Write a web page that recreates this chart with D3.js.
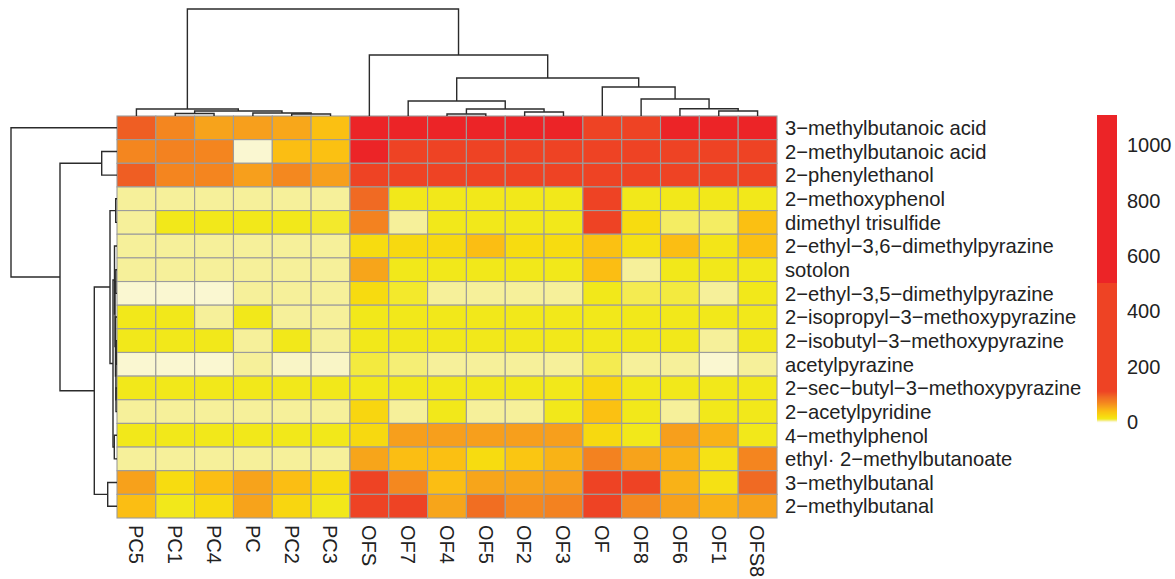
<!DOCTYPE html>
<html>
<head>
<meta charset="utf-8">
<script src="https://cdn.jsdelivr.net/npm/d3@7"></script>
<style>
  body { margin: 0; background: #fff; }
  text { font-family: "Liberation Sans", Arial, sans-serif; fill: #222; }
</style>
</head>
<body>
<div id="chart"></div>
<script>
// columns (samples) in dendrogram order
var samples = ["PC5", "PC1", "PC4", "PC", "PC2", "PC3", "OFS", "OF7", "OF4", "OF5", "OF2", "OF3", "OF", "OF8", "OF6", "OF1", "OFS8"];

// rows (compounds) in dendrogram order
var compounds = [
    "3\u2212methylbutanoic acid",
    "2\u2212methylbutanoic acid",
    "2\u2212phenylethanol",
    "2\u2212methoxyphenol",
    "dimethyl trisulfide",
    "2\u2212ethyl\u22123,6\u2212dimethylpyrazine",
    "sotolon",
    "2\u2212ethyl\u22123,5\u2212dimethylpyrazine",
    "2\u2212isopropyl\u22123\u2212methoxypyrazine",
    "2\u2212isobutyl\u22123\u2212methoxypyrazine",
    "acetylpyrazine",
    "2\u2212sec\u2212butyl\u22123\u2212methoxypyrazine",
    "2\u2212acetylpyridine",
    "4\u2212methylphenol",
    "ethyl\u00b7 2\u2212methylbutanoate",
    "3\u2212methylbutanal",
    "2\u2212methylbutanal"
];

// one row of values per compound, one value per sample (same order as samples)
var values = [
    [95, 69, 53, 55, 51, 37, 900, 860, 820, 840, 800, 780, 450, 430, 720, 740, 760],
    [69, 72, 70, 0.5, 38, 36, 650, 420, 400, 410, 390, 400, 380, 400, 390, 410, 420],
    [95, 70, 70, 55, 68, 55, 480, 400, 380, 390, 370, 380, 420, 390, 380, 370, 400],
    [3, 3, 3, 3, 3, 3, 88, 10, 10, 10, 10, 10, 200, 10, 10, 10, 10],
    [3, 10, 10, 10, 10, 9, 72, 3, 10, 10, 10, 10, 115, 18, 6, 6, 37],
    [3, 3, 3, 3, 3, 3, 18, 20, 20, 38, 18, 18, 36, 15, 38, 12, 37],
    [3, 3, 3, 3, 3, 3, 52, 10, 10, 10, 10, 10, 38, 3, 10, 10, 10],
    [0.5, 0.5, 0.5, 3, 3, 3, 19, 9, 3, 3, 3, 3, 10, 7, 8, 3, 10],
    [10, 10, 3, 10, 3, 3, 10, 10, 10, 10, 10, 10, 10, 10, 10, 10, 10],
    [10, 10, 10, 3, 10, 3, 10, 10, 10, 10, 10, 10, 10, 10, 10, 3, 10],
    [0.5, 0.5, 0.5, 3, 1, 1, 8, 5, 3, 3, 3, 3, 7, 3, 3, 0.5, 3],
    [10, 10, 10, 10, 10, 10, 10, 10, 10, 10, 10, 10, 22, 10, 10, 10, 10],
    [3, 3, 3, 3, 3, 3, 22, 3, 10, 3, 3, 10, 36, 10, 3, 10, 10],
    [10, 10, 10, 10, 10, 10, 20, 55, 55, 55, 55, 55, 20, 10, 55, 45, 10],
    [3, 3, 3, 3, 3, 3, 52, 38, 37, 18, 33, 44, 72, 53, 45, 14, 70],
    [54, 18, 38, 53, 38, 18, 200, 68, 38, 52, 52, 55, 220, 200, 45, 15, 88],
    [38, 10, 19, 53, 22, 10, 180, 200, 52, 85, 68, 72, 200, 68, 54, 45, 54]
];

var legendTicks = [0, 200, 400, 600, 800, 1000];
var legendMax = 1108;

// colour breaks
var colorStops = [0, 3, 10, 18, 37, 53, 69, 88, 110, 500, 501, 1200];
var colorRange = ["#FBF8DC", "#F6F09A", "#F2E81A", "#F7DC10", "#FBC012", "#F7A31B", "#F4861F", "#F06A23", "#EE4324", "#EE4324", "#EC2427", "#EC2427"];

// dendrograms: merge height + two children
function n(h, a, b) { return {h: h, children: [a, b]}; }
function leaf(name) { return {name: name, h: 0}; }

var colTree = n(107,
    n(7, leaf("PC5"), n(5, n(2.5, leaf("PC1"), leaf("PC4")), n(3, leaf("PC"), n(2, leaf("PC2"), leaf("PC3"))))),
    n(61, leaf("OFS"),
        n(38,
            n(15, leaf("OF7"), n(7, n(2, leaf("OF4"), leaf("OF5")), n(4, leaf("OF2"), leaf("OF3")))),
            n(29, leaf("OF"), n(17, leaf("OF8"), n(7.3, leaf("OF6"), n(5, leaf("OF1"), leaf("OFS8"))))))));

var r = compounds.map(leaf);
var rowTree = n(106, r[0],
    n(57, n(15.3, r[1], r[2]),
        n(22.7,
            n(7, n(1.3, r[3], r[4]),
                n(4,
                    n(2.5, r[5], n(2, n(1.2, r[6], r[7]), n(1.5, r[8], n(1.1, n(0.8, r[9], r[10]), n(1, r[11], r[12]))))),
                    n(2.7, r[13], r[14]))),
            n(9.3, r[15], r[16]))));

var width = 1175, height = 579;
var svg = d3.select("#chart").append("svg")
    .attr("width", width)
    .attr("height", height);

var x = d3.scaleBand().domain(samples).range([117, 777]);
var y = d3.scaleBand().domain(compounds).range([116, 518]);
var color = d3.scaleLinear().domain(colorStops).range(colorRange).clamp(true);

// cells
var cells = [];
values.forEach(function (row, i) {
    row.forEach(function (v, j) {
        cells.push({row: compounds[i], col: samples[j], v: v});
    });
});
svg.append("g").selectAll("rect")
    .data(cells)
    .enter().append("rect")
    .attr("x", function (d) { return x(d.col); })
    .attr("y", function (d) { return y(d.row); })
    .attr("width", x.bandwidth())
    .attr("height", y.bandwidth())
    .attr("fill", function (d) { return color(d.v); })
    .attr("stroke", "#9c9c9c")
    .attr("stroke-width", 1.1);

// row labels
svg.append("g").selectAll("text")
    .data(compounds)
    .enter().append("text")
    .attr("x", 785)
    .attr("y", function (d) { return y(d) + y.bandwidth() / 2; })
    .attr("dy", "0.36em")
    .attr("font-size", 20.2)
    .text(function (d) { return d; });

// column labels
svg.append("g").selectAll("text")
    .data(samples)
    .enter().append("text")
    .attr("transform", function (d) { return "translate(" + (x(d) + x.bandwidth() / 2) + ",525)rotate(90)"; })
    .attr("dy", "0.36em")
    .attr("font-size", 20)
    .text(function (d) { return d; });

// dendrograms
function drawTree(tree, posScale, hScale, horizontal) {
    var root = d3.hierarchy(tree);
    root.eachAfter(function (nd) {
        nd.pos = nd.children ? d3.mean(nd.children, function (c) { return c.pos; })
                             : posScale(nd.data.name) + posScale.bandwidth() / 2;
    });
    var g = svg.append("g")
        .attr("fill", "none")
        .attr("stroke", "#2b2b2b")
        .attr("stroke-width", 1.4);
    g.selectAll("path")
        .data(root.descendants().filter(function (nd) { return nd.children; }))
        .enter().append("path")
        .attr("d", function (nd) {
            var a = nd.children[0], b = nd.children[1];
            var h = hScale(nd.data.h);
            if (horizontal) {
                return "M" + hScale(a.data.h) + "," + a.pos + "H" + h + "V" + b.pos + "H" + hScale(b.data.h);
            }
            return "M" + a.pos + "," + hScale(a.data.h) + "V" + h + "H" + b.pos + "V" + hScale(b.data.h);
        });
}

drawTree(colTree, x, d3.scaleLinear().domain([0, 107]).range([116, 9]), false);
drawTree(rowTree, y, d3.scaleLinear().domain([0, 106]).range([117, 11]), true);

// legend
var yLeg = d3.scaleLinear().domain([0, 1000]).range([421.7, 145]);
var legendPix = d3.range(Math.floor(yLeg(legendMax)), Math.ceil(yLeg(0)));
svg.append("g").selectAll("rect")
    .data(legendPix)
    .enter().append("rect")
    .attr("x", 1097)
    .attr("y", function (d) { return d; })
    .attr("width", 20)
    .attr("height", 1.2)
    .attr("fill", function (d) { return color(yLeg.invert(d + 0.5)); });

svg.append("g").selectAll("text")
    .data(legendTicks)
    .enter().append("text")
    .attr("x", 1127)
    .attr("y", function (d) { return yLeg(d); })
    .attr("dy", "0.36em")
    .attr("font-size", 20)
    .text(function (d) { return d; });
</script>
</body>
</html>
